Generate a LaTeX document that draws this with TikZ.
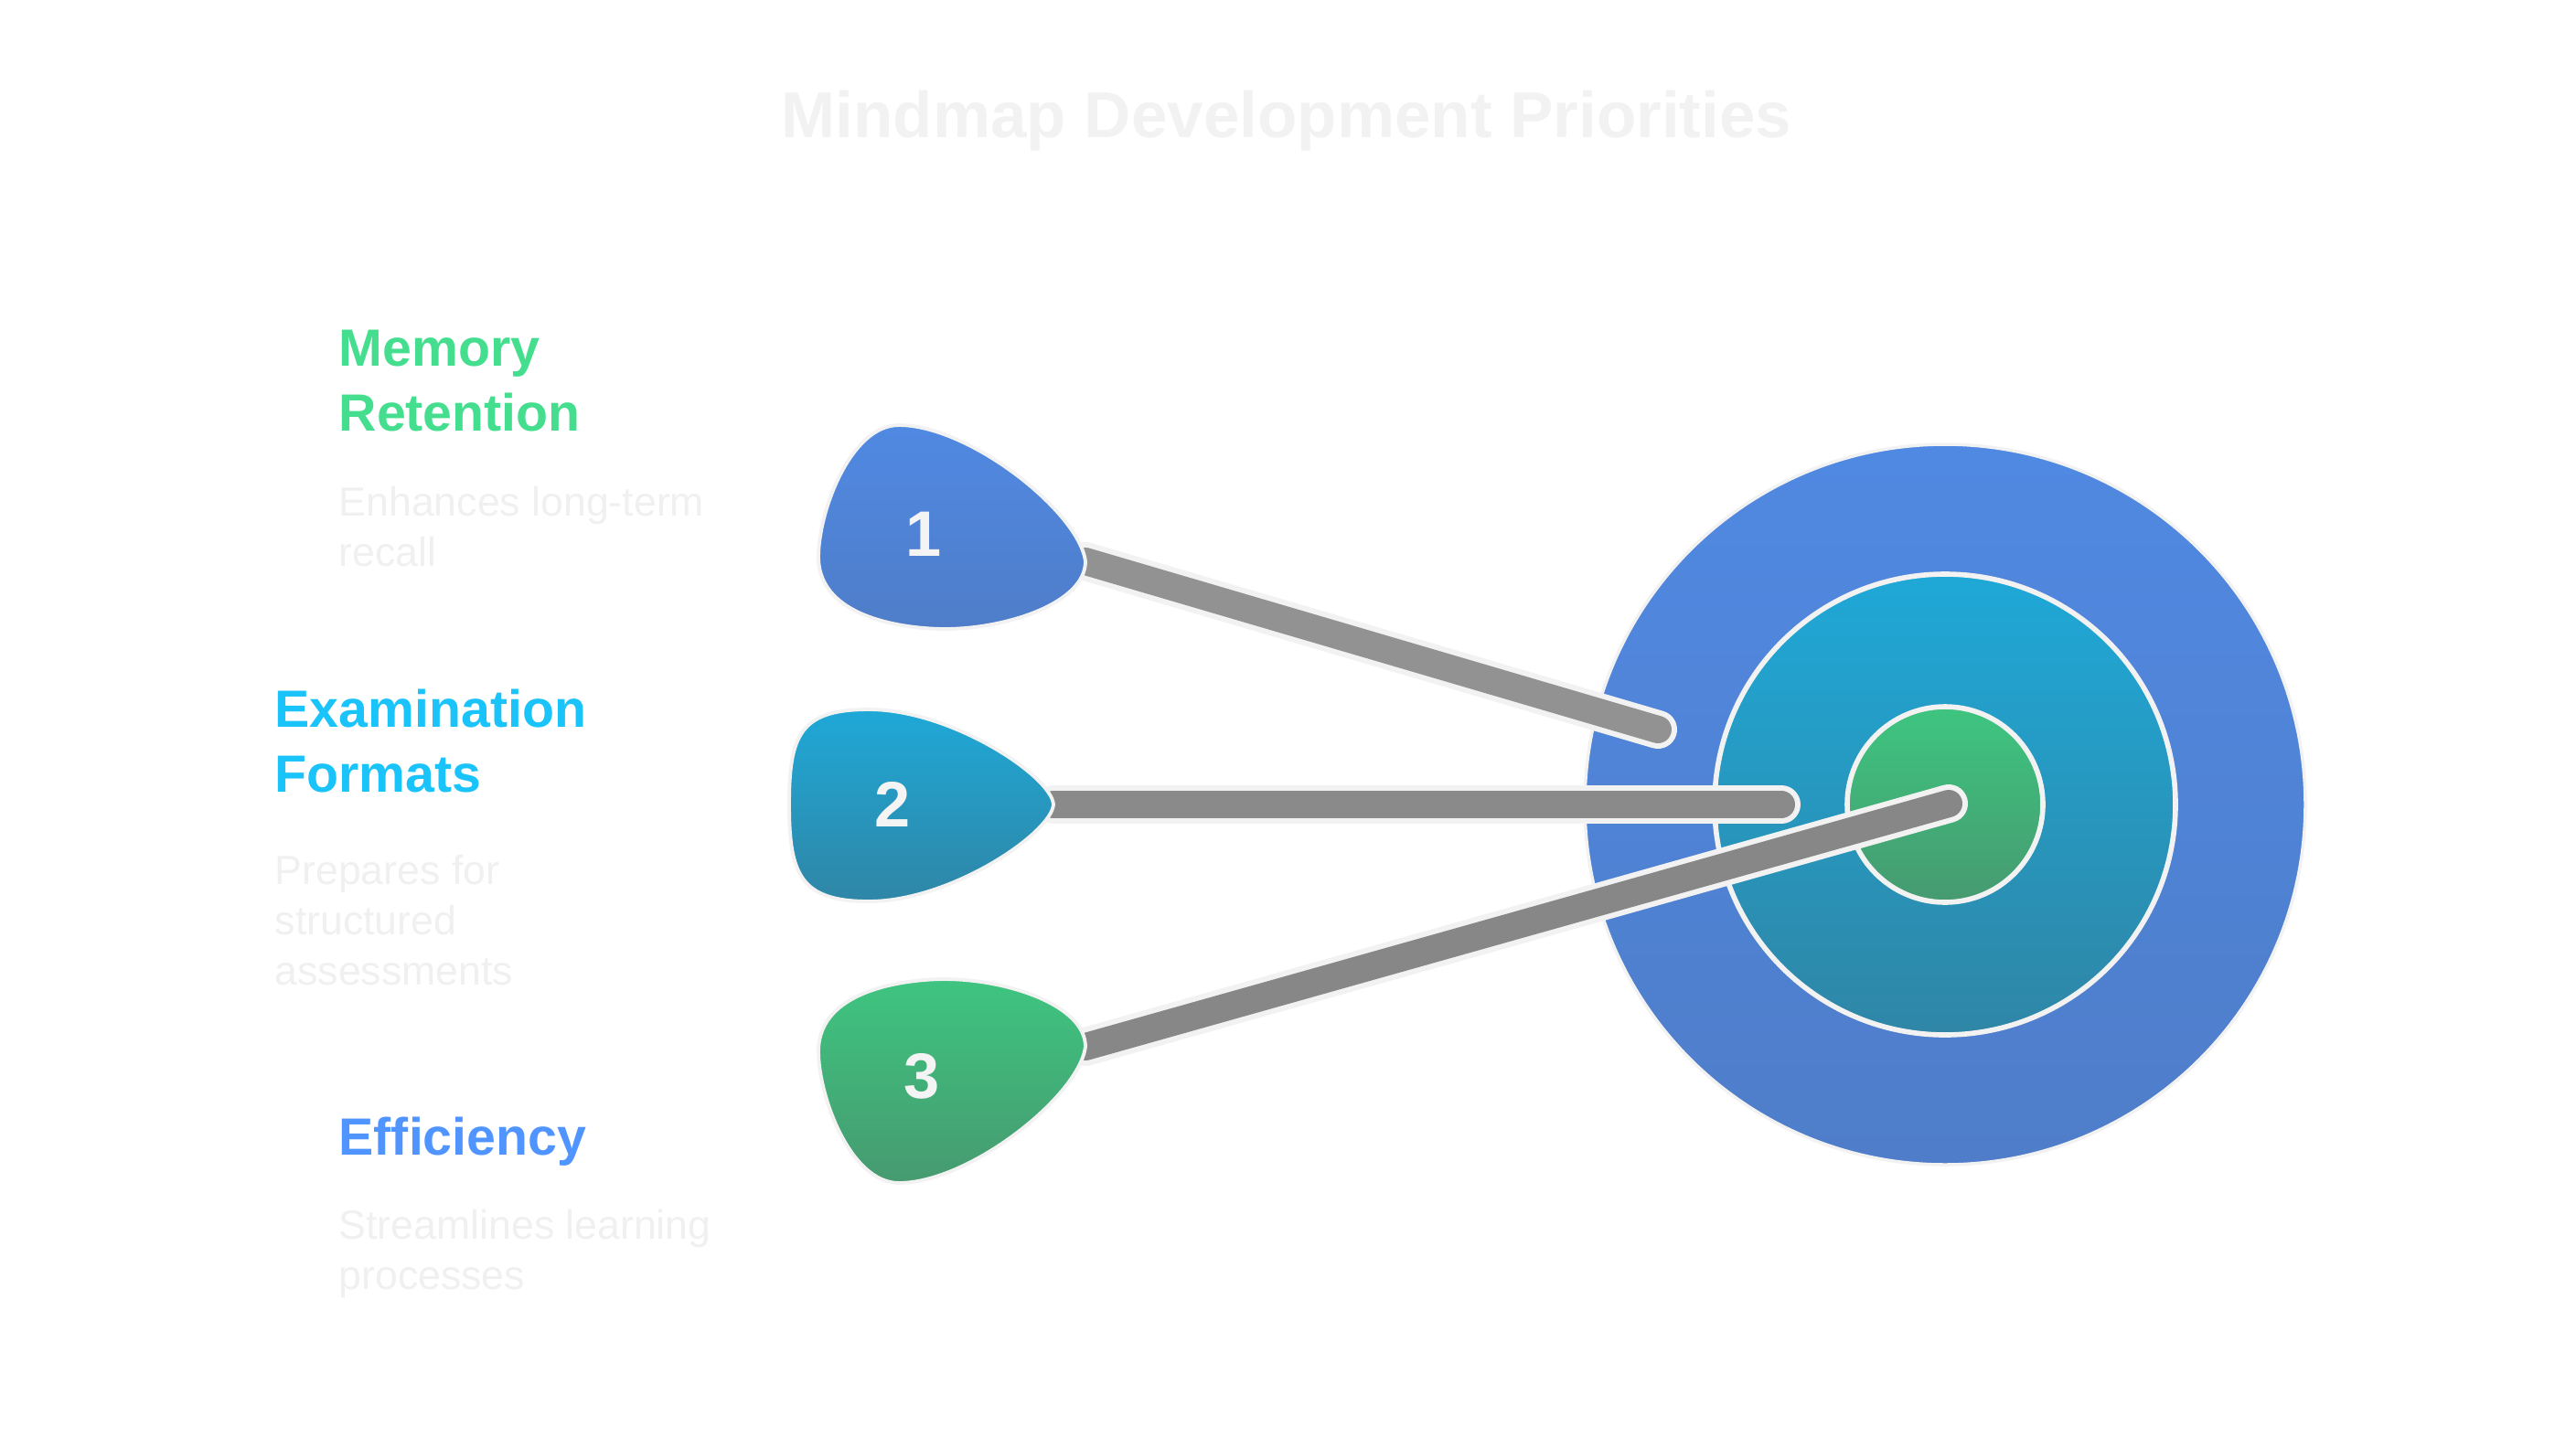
\documentclass[tikz,border=0pt]{standalone}
\usepackage{fontspec}
\setmainfont{Liberation Sans}
\definecolor{outertop}{HTML}{5089E2}
\definecolor{outerbot}{HTML}{4F7DC9}
\definecolor{midtop}{HTML}{1FA8D7}
\definecolor{midbot}{HTML}{2F86A6}
\definecolor{innertop}{HTML}{3EC580}
\definecolor{innerbot}{HTML}{469A70}
\definecolor{ringline}{HTML}{F2F2F2}
\definecolor{titlegray}{HTML}{F2F2F2}
\definecolor{paletext}{HTML}{F0F0F0}
\definecolor{numwhite}{HTML}{F4F4F4}
\definecolor{memgreen}{HTML}{45DE8F}
\definecolor{examcyan}{HTML}{1AC3FA}
\definecolor{effblue}{HTML}{5094FF}
\definecolor{stick1}{HTML}{929292}
\definecolor{stick2}{HTML}{8A8A8A}
\definecolor{stick3}{HTML}{878787}

\begin{document}
\begin{tikzpicture}
  \tikzstyle{ring}=[circle, inner sep=0pt, draw=ringline]
  \tikzstyle{drop}=[draw=ringline, line width=1.1pt]
  \tikzstyle{stickedge}=[line width=0.42cm, line cap=round, draw=ringline]
  \tikzstyle{num}=[text=numwhite, font=\bfseries\fontsize{20}{24}\selectfont]
  \tikzstyle{head}=[anchor=base west, inner sep=0pt, align=left, font=\bfseries\fontsize{16.3}{20.2}\selectfont]
  \tikzstyle{desc}=[anchor=base west, inner sep=0pt, align=left, text=paletext, font=\fontsize{12.7}{15.6}\selectfont]
  \useasboundingbox (0,0) rectangle (28.17,-15.84);
  \node[anchor=base, inner sep=0pt, text=titlegray, font=\bfseries\fontsize{20.2}{26}\selectfont] (title) at (14.07,-1.50) {Mindmap Development Priorities};
  \node[ring, minimum size=7.88cm, top color=outertop, bottom color=outerbot, line width=1pt] (outer) at (21.27,-8.80) {};
  \node[ring, minimum size=5.04cm, top color=midtop, bottom color=midbot, line width=1.6pt] (middle) at (outer) {};
  \node[ring, minimum size=2.14cm, top color=innertop, bottom color=innerbot, line width=1.6pt] (inner) at (outer) {};
  \coordinate (tip1) at (11.87,-6.14);
  \coordinate (tip2) at (11.52,-8.80);
  \coordinate (tip3) at (11.87,-11.45);
  \coordinate (end1) at (18.13,-7.98);
  \coordinate (end2) at (19.48,-8.80);
  \coordinate (end3) at (21.31,-8.79);
  \foreach \i in {1,2,3} {
    \draw[stickedge] (tip\i) -- (end\i);
    \draw[line width=0.30cm, line cap=round, draw=stick\i] (tip\i) -- (end\i);
  }
  \draw[drop, top color=outertop, bottom color=outerbot, shift={(tip1)}] (0,0) .. controls (-0.07,0.54) and (-1.27,1.49) .. (-2.04,1.49) .. controls (-2.57,1.49) and (-2.92,0.54) .. (-2.92,0.05) .. controls (-2.92,-0.66) and (-1.87,-0.74) .. (-1.54,-0.74) .. controls (-0.87,-0.74) and (0,-0.46) .. (0,0) -- cycle;
  \draw[drop, top color=midtop, bottom color=midbot, shift={(tip2)}] (0,0) .. controls (-0.02,0.31) and (-1.12,1.04) .. (-2.02,1.04) .. controls (-2.77,1.04) and (-2.89,0.76) .. (-2.89,0) .. controls (-2.89,-0.76) and (-2.77,-1.06) .. (-2.02,-1.06) .. controls (-1.12,-1.06) and (-0.02,-0.31) .. (0,0) -- cycle;
  \draw[drop, top color=innertop, bottom color=innerbot, shift={(tip3)}] (0,0) .. controls (-0.07,-0.54) and (-1.27,-1.49) .. (-2.04,-1.49) .. controls (-2.57,-1.49) and (-2.92,-0.54) .. (-2.92,-0.05) .. controls (-2.92,0.66) and (-1.87,0.74) .. (-1.54,0.74) .. controls (-0.87,0.74) and (0,0.46) .. (0,0) -- cycle;
  \node[num] (n1) at (10.10,-5.84) {1};
  \node[num] (n2) at (9.76,-8.80) {2};
  \node[num] (n3) at (10.08,-11.77) {3};
  \node[head, text=memgreen] (memory) at (3.70,-4.71) {Memory\\Retention};
  \node[desc] (memorytext) at (3.70,-6.19) {Enhances long-term\\recall};
  \node[head, text=examcyan] (exam) at (3.00,-8.66) {Examination\\Formats};
  \node[desc] (examtext) at (3.00,-10.77) {Prepares for\\structured\\assessments};
  \node[head, text=effblue] (eff) at (3.70,-12.63) {Efficiency};
  \node[desc] (efftext) at (3.70,-14.10) {Streamlines learning\\processes};
\end{tikzpicture}
\end{document}
